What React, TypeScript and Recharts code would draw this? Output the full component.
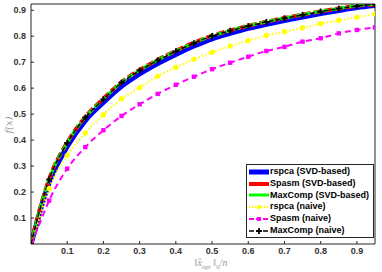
import React from "react"
import { LineChart, Line, XAxis, YAxis } from "recharts"

const xs = [0, 0.01, 0.02, 0.03, 0.05, 0.1, 0.15, 0.2, 0.25, 0.3, 0.35, 0.4, 0.45, 0.5, 0.55, 0.6, 0.65, 0.7, 0.75, 0.8, 0.85, 0.9, 0.95]

const rspcaSvd = [0, 0.05, 0.1, 0.15, 0.235, 0.375, 0.475, 0.545, 0.607, 0.655, 0.695, 0.73, 0.762, 0.79, 0.811, 0.83, 0.846, 0.86, 0.874, 0.887, 0.899, 0.91, 0.918]
const spasmSvd = [0, 0.057, 0.112, 0.162, 0.25, 0.391, 0.489, 0.56, 0.623, 0.67, 0.709, 0.744, 0.775, 0.802, 0.822, 0.84, 0.856, 0.87, 0.883, 0.896, 0.907, 0.917, 0.922]
const maxcompSvd = [0, 0.056, 0.111, 0.161, 0.249, 0.39, 0.488, 0.558, 0.622, 0.669, 0.708, 0.743, 0.774, 0.801, 0.822, 0.84, 0.856, 0.87, 0.883, 0.896, 0.907, 0.917, 0.923]
const rspcaNaive = [0, 0.04, 0.085, 0.13, 0.213, 0.341, 0.427, 0.498, 0.559, 0.602, 0.646, 0.68, 0.711, 0.738, 0.762, 0.783, 0.803, 0.817, 0.832, 0.848, 0.861, 0.873, 0.886]
const spasmNaive = [0, 0.03, 0.065, 0.1, 0.167, 0.29, 0.373, 0.438, 0.493, 0.538, 0.578, 0.613, 0.644, 0.673, 0.698, 0.721, 0.743, 0.759, 0.779, 0.792, 0.811, 0.824, 0.834]
const maxcompNaive = [0, 0.055, 0.11, 0.16, 0.248, 0.389, 0.487, 0.557, 0.621, 0.668, 0.707, 0.742, 0.773, 0.801, 0.821, 0.839, 0.855, 0.869, 0.882, 0.895, 0.906, 0.916, 0.923]

const xTicks = [0.1, 0.2, 0.3, 0.4, 0.5, 0.6, 0.7, 0.8, 0.9]
const yTicks = [0.1, 0.2, 0.3, 0.4, 0.5, 0.6, 0.7, 0.8, 0.9]

const data = xs.map((x, i) => ({
  x,
  rspcaSvd: rspcaSvd[i],
  spasmSvd: spasmSvd[i],
  maxcompSvd: maxcompSvd[i],
  rspcaNaive: rspcaNaive[i],
  spasmNaive: spasmNaive[i],
  maxcompNaive: maxcompNaive[i],
}))

const AX = "#262626"
const FONT = "'Liberation Sans', Arial, sans-serif"

function onGrid(x: number) {
  return Math.abs(x * 20 - Math.round(x * 20)) < 1e-6
}

function marker(kind: string, color: string) {
  return (p: any) => {
    const { cx, cy, payload, index } = p
    const key = `${kind}-${index}`
    if (!payload || !onGrid(payload.x)) return <g key={key} />
    if (kind === "circle") return <circle key={key} cx={cx} cy={cy} r={2.3} fill={color} stroke={color} />
    if (kind === "square") return <rect key={key} x={cx - 2.2} y={cy - 2.2} width={4.4} height={4.4} fill={color} />
    return (
      <g key={key} stroke={color} strokeWidth={1.8}>
        <line x1={cx - 3} y1={cy} x2={cx + 3} y2={cy} />
        <line x1={cx} y1={cy - 3} x2={cx} y2={cy + 3} />
      </g>
    )
  }
}

const legendRows = [
  { name: "rspca (SVD-based)", color: "#0000ff", width: 5, dash: undefined, mark: "" },
  { name: "Spasm (SVD-based)", color: "#ff0000", width: 4, dash: undefined, mark: "" },
  { name: "MaxComp (SVD-based)", color: "#00ff00", width: 3, dash: undefined, mark: "" },
  { name: "rspca (naive)", color: "#ffff00", width: 1.8, dash: "1.5 1.5", mark: "circle" },
  { name: "Spasm (naive)", color: "#ff00ff", width: 1.8, dash: "5 2", mark: "square" },
  { name: "MaxComp (naive)", color: "#000000", width: 1.4, dash: "5 2", mark: "plus" },
]

function LegendBox() {
  return (
    <div
      style={{
        position: "absolute",
        left: 246,
        top: 164,
        width: 128,
        height: 74,
        background: "#fff",
        border: `1px solid ${AX}`,
        boxSizing: "border-box",
        padding: "1px 0 0 1px",
        fontFamily: FONT,
        fontWeight: 700,
        fontSize: 9,
        color: "#000",
      }}
    >
      {legendRows.map((r) => (
        <div key={r.name} style={{ display: "flex", alignItems: "center", height: 11.8, lineHeight: "11.8px" }}>
          <svg width={22} height={10} style={{ flex: "none" }}>
            <line x1={1} y1={5} x2={21} y2={5} stroke={r.color} strokeWidth={r.width} strokeDasharray={r.dash} />
            {r.mark === "circle" && <circle cx={11} cy={5} r={2.2} fill={r.color} />}
            {r.mark === "square" && <rect x={9} y={3} width={4} height={4} fill={r.color} />}
            {r.mark === "plus" && (
              <g stroke={r.color} strokeWidth={1.8}>
                <line x1={8} y1={5} x2={14} y2={5} />
                <line x1={11} y1={2} x2={11} y2={8} />
              </g>
            )}
          </svg>
          <span style={{ whiteSpace: "nowrap" }}>{r.name}</span>
        </div>
      ))}
    </div>
  )
}

const tickStyle = { fontSize: 9, fill: "#333", fontWeight: 700, fontFamily: FONT }

export default function App() {
  return (
    <div style={{ position: "absolute", left: 0, top: 0, width: 382, height: 272, background: "#fff" }}>
      <LineChart width={382} height={272} data={data} margin={{ top: 3, right: 6, left: 0, bottom: 0 }}>
        <XAxis
          dataKey="x"
          type="number"
          domain={[0, 0.95]}
          ticks={xTicks}
          tickSize={-3}
          tickMargin={7}
          stroke={AX}
          height={28}
          tick={tickStyle}
          allowDataOverflow
        />
        <XAxis
          xAxisId="top"
          dataKey="x"
          type="number"
          orientation="top"
          domain={[0, 0.95]}
          ticks={xTicks}
          tickSize={-3}
          stroke={AX}
          height={1}
          tick={false}
          allowDataOverflow
        />
        <YAxis
          type="number"
          domain={[0, 0.924]}
          ticks={yTicks}
          tickSize={-3}
          tickMargin={8}
          stroke={AX}
          width={31}
          tick={tickStyle}
          allowDataOverflow
        />
        <YAxis
          yAxisId="right"
          orientation="right"
          type="number"
          domain={[0, 0.924]}
          ticks={yTicks}
          tickSize={-3}
          stroke={AX}
          width={1}
          tick={false}
          allowDataOverflow
        />
        <Line type="monotone" dataKey="rspcaSvd" stroke="#0000ff" strokeWidth={5} dot={false} isAnimationActive={false} />
        <Line type="monotone" dataKey="spasmSvd" stroke="#ff0000" strokeWidth={4} strokeDasharray="8 3" dot={false} isAnimationActive={false} />
        <Line type="monotone" dataKey="maxcompSvd" stroke="#00ff00" strokeWidth={3} strokeDasharray="6 3" dot={false} isAnimationActive={false} />
        <Line type="monotone" dataKey="rspcaNaive" stroke="#ffff00" strokeWidth={2} strokeDasharray="1.5 2" dot={marker("circle", "#ffff00")} isAnimationActive={false} />
        <Line type="monotone" dataKey="spasmNaive" stroke="#ff00ff" strokeWidth={2} strokeDasharray="6 4" dot={marker("square", "#ff00ff")} isAnimationActive={false} />
        <Line type="monotone" dataKey="maxcompNaive" stroke="#000000" strokeWidth={1.4} strokeDasharray="5 2" dot={marker("plus", "#000000")} isAnimationActive={false} />
      </LineChart>
      <LegendBox />
      <div
        style={{
          position: "absolute",
          left: 8,
          top: 125,
          transform: "translate(-50%, -50%) rotate(-90deg)",
          fontFamily: "'DejaVu Serif', 'Liberation Serif', serif",
          fontStyle: "italic",
          fontSize: 10,
          color: "#999",
          whiteSpace: "nowrap",
        }}
      >
        f(x)
      </div>
      <div
        style={{
          position: "absolute",
          left: 211,
          top: 264,
          transform: "translate(-50%, -50%)",
          fontFamily: "'Liberation Serif', serif",
          fontSize: 10,
          color: "#999",
          whiteSpace: "nowrap",
        }}
      >
        ‖<i>x̂</i>
        <sub style={{ fontSize: 7 }}><i>opt</i></sub> ‖<sub style={{ fontSize: 7 }}>0</sub>/<i>n</i>
      </div>
    </div>
  )
}
